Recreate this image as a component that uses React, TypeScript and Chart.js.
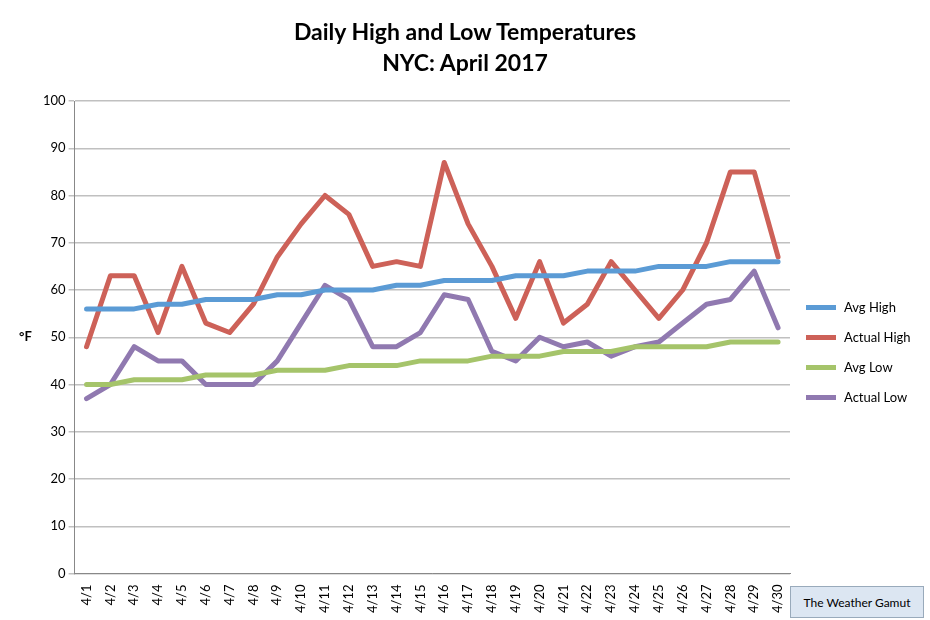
import React, { useEffect, useRef } from "react";
import { Chart, registerables } from "chart.js";
Chart.register(...registerables);

const days = Array.from({ length: 30 }, (_, i) => `4/${i + 1}`);
const avgHigh = [56,56,56,57,57,58,58,58,59,59,60,60,60,61,61,62,62,62,63,63,63,64,64,64,65,65,65,66,66,66];
const actualHigh = [48,63,63,51,65,53,51,57,67,74,80,76,65,66,65,87,74,65,54,66,53,57,66,60,54,60,70,85,85,67];
const avgLow = [40,40,41,41,41,42,42,42,43,43,43,44,44,44,45,45,45,46,46,46,47,47,47,48,48,48,48,49,49,49];
const actualLow = [37,40,48,45,45,40,40,40,45,53,61,58,48,48,51,59,58,47,45,50,48,49,46,48,49,53,57,58,64,52];

const series = [
  { label: "Avg High", data: avgHigh, color: "#5b9bd5" },
  { label: "Actual High", data: actualHigh, color: "#cd6158" },
  { label: "Avg Low", data: avgLow, color: "#a5c46a" },
  { label: "Actual Low", data: actualLow, color: "#9079b0" },
];
const FONT = "Lato, 'Liberation Sans', sans-serif";

export default function App() {
  const ref = useRef<HTMLCanvasElement>(null);
  useEffect(() => {
    const chart = new Chart(ref.current!, {
      type: "line",
      data: {
        labels: days,
        datasets: series.map((s) => ({
          label: s.label, data: s.data, borderColor: s.color, backgroundColor: s.color,
          borderWidth: 5, pointRadius: 0, tension: 0, borderJoinStyle: "round" as const, borderCapStyle: "round" as const,
        })),
      },
      options: {
        animation: false, responsive: false,
        layout: { padding: { left: 40, right: 140, top: 101, bottom: 4 } },
        plugins: { legend: { display: false }, tooltip: { enabled: false } },
        scales: {
          x: { offset: true, grid: { display: false }, border: { color: "#888" },
            ticks: { color: "#000", font: { family: FONT, size: 13 }, maxRotation: 90, minRotation: 90, autoSkip: false } },
          y: { min: 0, max: 100, border: { color: "#888" },
            grid: { color: "#c0c0c0", lineWidth: 1.5, tickLength: 6 },
            ticks: { stepSize: 10, color: "#000", font: { family: FONT, size: 13 } } },
        },
      },
    });
    return () => chart.destroy();
  }, []);
  return (
    <div style={{ position: "absolute", left: 0, top: 0, width: 930, height: 620, fontFamily: FONT }}>
      <canvas ref={ref} width={930} height={620} />
      <div style={{ position: "absolute", left: 0, top: 16, width: 930, textAlign: "center", fontSize: 23, fontWeight: "bold", lineHeight: "31px" }}>
        Daily High and Low Temperatures<br />NYC: April 2017
      </div>
      <div style={{ position: "absolute", left: 19, top: 328, fontSize: 13, fontWeight: "bold" }}>°F</div>
      <div style={{ position: "absolute", left: 806, top: 292 }}>
        {series.map((s) => (
          <div key={s.label} style={{ display: "flex", alignItems: "center", height: 30, fontSize: 13 }}>
            <span style={{ display: "inline-block", width: 30, height: 5, background: s.color, marginRight: 8 }} />
            {s.label}
          </div>
        ))}
      </div>
      <div style={{ position: "absolute", left: 790, top: 586, width: 134, height: 32, background: "#dce6f2",
        border: "1px solid #9ab", boxSizing: "border-box", fontSize: 12, display: "flex", alignItems: "center", justifyContent: "center" }}>
        The Weather Gamut
      </div>
    </div>
  );
}
